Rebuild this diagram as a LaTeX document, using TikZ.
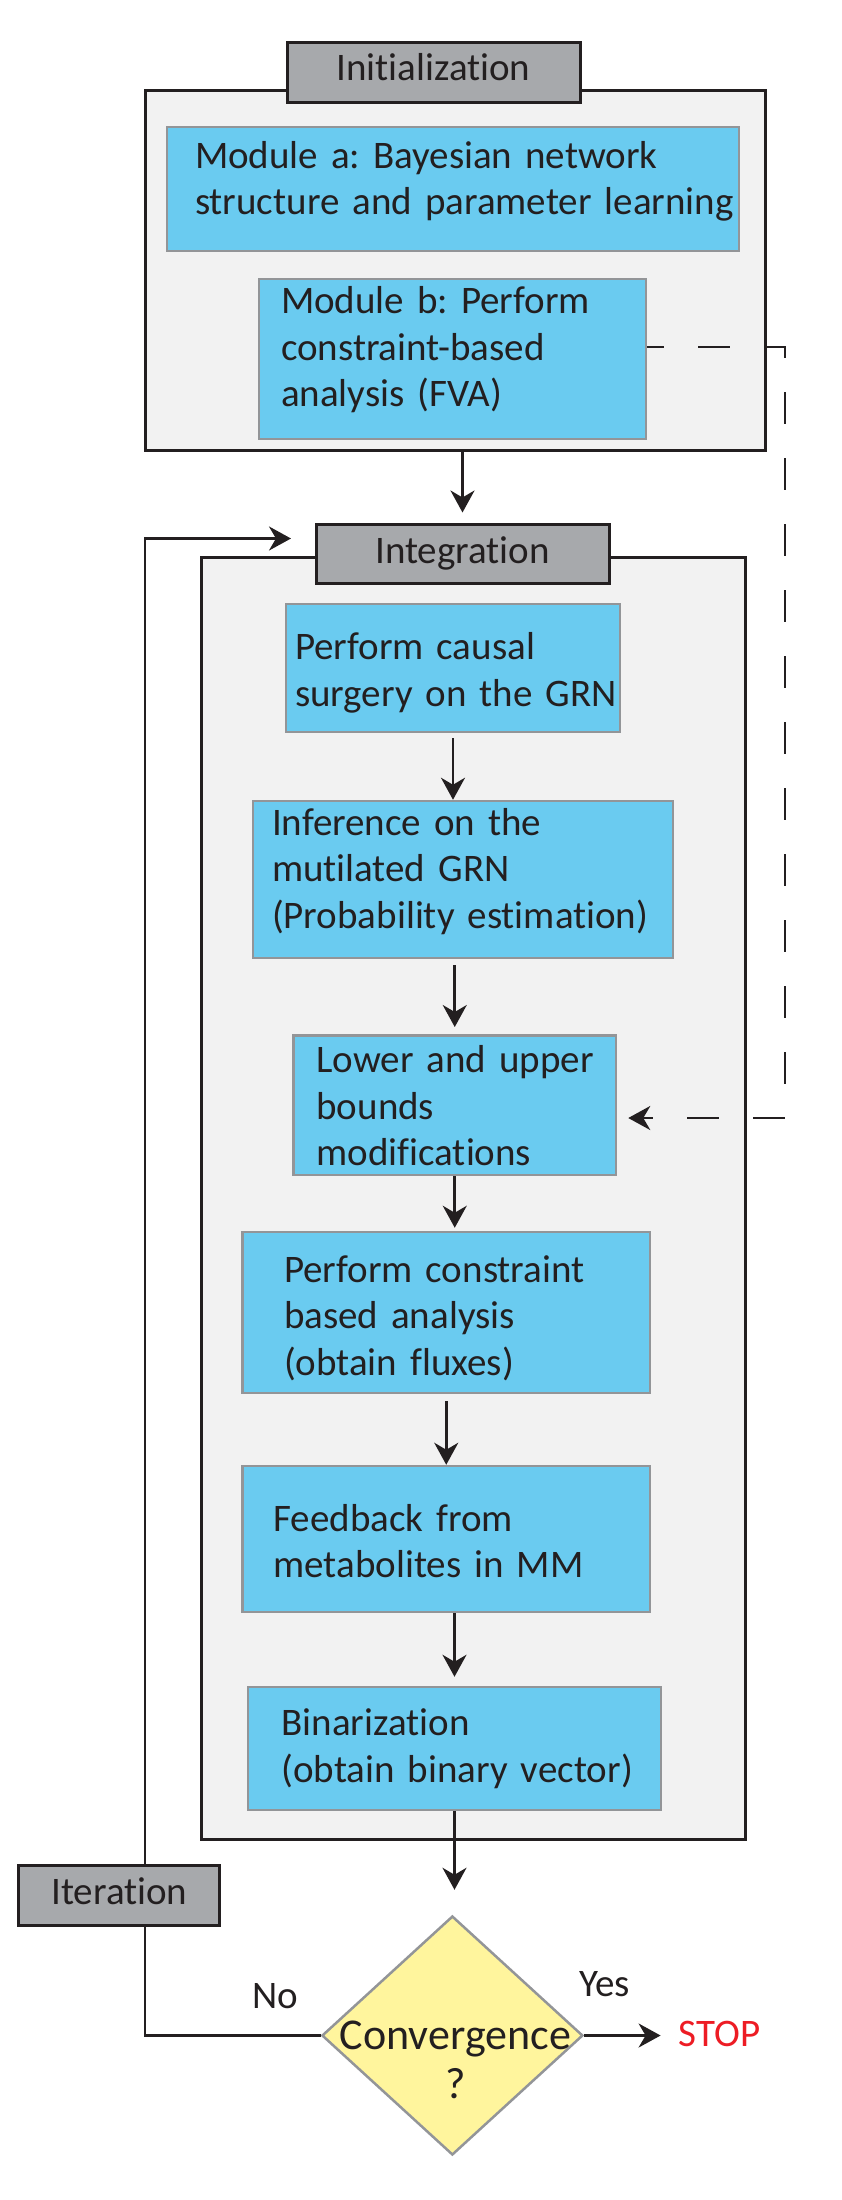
\documentclass[tikz,border=0pt]{standalone}
\usepackage{fontspec}
\setmainfont{Carlito}[Ligatures={NoCommon}]
\usetikzlibrary{arrows.meta,shapes.geometric}
\definecolor{ink}{HTML}{231F20}
\definecolor{boxblue}{HTML}{6ACBF0}
\definecolor{boxedge}{HTML}{939598}
\definecolor{panel}{HTML}{F2F2F2}
\definecolor{tabgray}{HTML}{A7A9AC}
\definecolor{diam}{HTML}{FFF59D}
\definecolor{stopred}{HTML}{ED1C24}
\frenchspacing
\newcommand\boxlines[3]{\raisebox{#2}[\height][\depth]{\begin{tabular}{@{\hspace{#1}}l@{}}#3\end{tabular}}}
\newcommand\lift[2]{\raisebox{#1}[\height][\depth]{#2}}
\begin{document}
\begin{tikzpicture}[x=1pt,y=-1pt,
  every node/.style={text=ink},
  txtfont/.style={font=\fontsize{39}{46.5}\selectfont},
  panelbox/.style={draw=ink, fill=panel, line width=3pt, inner sep=0pt},
  tabbox/.style={draw=ink, fill=tabgray, line width=3pt, inner sep=0pt, txtfont},
  bluebox/.style={draw=boxedge, fill=boxblue, line width=2.5pt, inner sep=0pt, align=left, txtfont},
  decision/.style={shape=diamond, draw=boxedge, fill=diam, line width=2.5pt, inner sep=0pt},
  lbl/.style={inner sep=0pt, txtfont},
  flow/.style={draw=ink, line width=2.6pt, -{Stealth[length=22pt,width=24pt,inset=7pt]}},
  fbdash/.style={draw=ink, line width=2.6pt, dash pattern=on 32pt off 34pt, dash phase=15pt,
                 -{Stealth[length=22pt,width=24pt,inset=7pt]}},
  plain/.style={draw=ink, line width=2.6pt}
]
\useasboundingbox (0,0) rectangle (841,2200);

% Initialization panel
\node[panelbox, minimum width=620pt, minimum height=360pt] (initbox) at (455,270) {};
\node[tabbox, minimum width=293pt, minimum height=59pt] (inittab) at (433.5,72.5) {\lift{5pt}{Initialization}};
\node[bluebox, text width=572pt, minimum height=124pt] (moda) at (453,189)
  {\boxlines{28pt}{7pt}{Module a: Bayesian network\\structure and parameter learning}};
\node[bluebox, text width=387pt, minimum height=160pt] (modb) at (452.5,359)
  {\boxlines{22pt}{8pt}{Module b: Perform\\constraint-based\\analysis (FVA)}};

% Integration panel
\node[panelbox, minimum width=544pt, minimum height=1282pt] (intbox) at (473.5,1198) {};
\node[tabbox, minimum width=293pt, minimum height=59pt] (inttab) at (462.5,553.5) {Integration};
\node[bluebox, text width=334pt, minimum height=128pt] (causal) at (453,668)
  {\boxlines{9pt}{-5.5pt}{Perform causal\\surgery on the GRN}};
\node[bluebox, text width=420pt, minimum height=157pt] (infer) at (463,879.5)
  {\boxlines{19pt}{7pt}{Inference on the\\mutilated GRN\\(Probability estimation)}};
\node[bluebox, text width=322.5pt, minimum height=136pt] (lower) at (454.75,1105)
  {\boxlines{23pt}{-5pt}{Lower and upper\\bounds\\modifications}};
\node[bluebox, text width=407.5pt, minimum height=161pt] (constr) at (446.25,1312.5)
  {\boxlines{41.5pt}{-7pt}{Perform constraint\\based analysis\\(obtain fluxes)}};
\node[bluebox, text width=407.5pt, minimum height=146pt] (feed) at (446.25,1539)
  {\boxlines{31pt}{-6pt}{Feedback from\\metabolites in MM}};
\node[bluebox, text width=413pt, minimum height=123pt] (binar) at (454.5,1748.5)
  {\boxlines{33.6pt}{-1pt}{Binarization\\(obtain binary vector)}};

% Decision
\node[decision, minimum width=261pt, minimum height=239pt] (conv) at (452.4,2035.5) {};
\node[inner sep=0pt, align=center, font=\fontsize{44}{49}\selectfont] (convtext) at ([xshift=3pt,yshift=-24pt]conv.center) {Convergence\\?};
\node[lbl, anchor=base west, text=stopred] (stop) at (678.6,2046) {STOP};
\node[lbl, anchor=base west] (yes) at (579,1996) {Yes};
\node[lbl, anchor=base west] (no) at (252,2008) {No};

% Flow arrows
\draw[flow, shorten >=10pt] (initbox.south -| inttab.north) -- (inttab.north);
\draw[flow, shorten <=5pt] (causal.south) -- (causal.south |- infer.north);
\draw[flow, shorten <=6pt, shorten >=7pt] (lower.north |- infer.south) -- (lower.north);
\draw[flow, shorten >=3pt] (lower.south) -- (lower.south |- constr.north);
\draw[flow, shorten <=7pt] (constr.south) -- (constr.south |- feed.north);
\draw[flow, shorten >=9pt] (binar.north |- feed.south) -- (binar.north);
\draw[flow, shorten >=25pt] (binar.south) -- (binar.south |- conv.north);
\draw[flow, shorten >=18pt] (conv.east) -- (conv.east -| stop.west);

% Dashed feedback from module b
\coordinate (dashtop) at (785,347);
\coordinate (dashbot) at (785,1118);
\draw[fbdash, shorten >=11pt] ([yshift=12pt]modb.east) -- (dashtop) -- (dashbot) -- (dashbot -| lower.east);

% Iteration loop
\coordinate (loopcol) at (145,538.5);
\coordinate (looptip) at (291,538.5);
\draw[flow] (conv.west) -- (conv.west -| loopcol) -- (loopcol) -- (looptip);
\node[tabbox, minimum width=201pt, minimum height=60pt] (iter) at (119.4,1895) {\lift{3.6pt}{Iteration}};
\end{tikzpicture}
\end{document}
